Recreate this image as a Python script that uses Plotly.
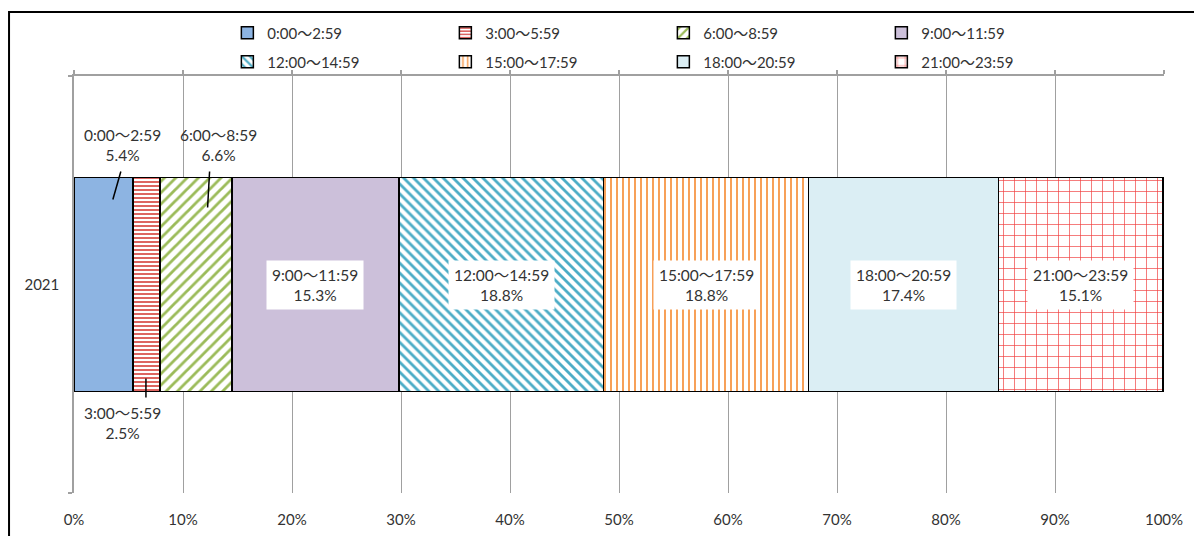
import numpy as np
import plotly.graph_objects as go

# Share of records by time of day (one stacked bar for 2021)
year = ["2021"]
periods = ["0:00～2:59", "3:00～5:59", "6:00～8:59", "9:00～11:59",
           "12:00～14:59", "15:00～17:59", "18:00～20:59", "21:00～23:59"]
shares = [5.4, 2.5, 6.6, 15.3, 18.8, 18.8, 17.4, 15.1]
x_ticks = list(range(0, 101, 10))
x_tick_labels = [f"{t}%" for t in x_ticks]

# Fill styles per period: (pattern shape, foreground, background, tile size, solidity)
styles = [
    ("", "#8DB4E2", "#8DB4E2", 8, 0.3),
    ("-", "#D9534F", "white", 4, 0.45),
    ("/", "#9BBB59", "white", 8, 0.35),
    ("", "#CCC0DA", "#CCC0DA", 8, 0.3),
    ("\\", "#4BACC6", "white", 7, 0.4),
    ("|", "#F79646", "white", 6, 0.3),
    ("", "#DBEEF4", "#DBEEF4", 8, 0.3),
    ("+", "#F04040", "white", 11, 0.12),
]

FONT = "Lato, 'Noto Sans CJK JP', sans-serif"
TXT = "#333333"
GRID = "#A0A0A0"
BAR_W = 0.513

fig = go.Figure()
for i, (name, val) in enumerate(zip(periods, shares)):
    shape, fg, bg, size, sol = styles[i]
    fig.add_trace(go.Bar(
        x=[val], y=year, orientation="h", name=name,
        legend="legend" if i < 4 else "legend2",
        marker=dict(
            color=bg,
            pattern=dict(shape=shape, fgcolor=fg, bgcolor=bg, size=size,
                         solidity=sol, fillmode="replace"),
            line=dict(color="black", width=1.5),
        ),
        hoverinfo="x+name",
    ))

# invisible trace so the top axis line with its ticks is drawn
fig.add_trace(go.Scatter(x=[0], y=year, xaxis="x2", mode="markers",
                         marker=dict(opacity=0), showlegend=False,
                         hoverinfo="skip"))

starts = np.cumsum([0] + shares[:-1])
annotations = []
shapes = []

# labels inside the wide segments
for i in range(3, len(shares)):
    annotations.append(dict(
        x=starts[i] + shares[i] / 2, y=0, xref="x", yref="y",
        text=f"{periods[i]}<br>{shares[i]:.1f}%", showarrow=False,
        bgcolor="white", borderpad=5,
        font=dict(family=FONT, size=15.5, color=TXT),
    ))

# labels outside the narrow segments, with leader lines
# (segment index, position along segment, bar edge, line offsets px, text shift px)
outside = [
    (0, 0.66, BAR_W / 2, (0, -22, 8, 6), (10, 33)),
    (2, 0.66, BAR_W / 2, (0, -30, 2, 6), (11, 33)),
    (1, 0.48, -BAR_W / 2, (0, 13, 0, -6), (-23, -32)),
]
for i, frac, edge, (lx0, ly0, lx1, ly1), (sx, sy) in outside:
    ax = starts[i] + shares[i] * frac
    shapes.append(dict(
        type="line", xref="x", yref="y", xsizemode="pixel", ysizemode="pixel",
        xanchor=ax, yanchor=edge, x0=lx0, y0=ly0, x1=lx1, y1=ly1,
        line=dict(color="black", width=1.5),
    ))
    annotations.append(dict(
        x=ax, y=edge, xref="x", yref="y", xshift=sx, yshift=sy,
        text=f"{periods[i]}<br>{shares[i]:.1f}%", showarrow=False,
        font=dict(family=FONT, size=15.5, color=TXT),
    ))

# chart frame
shapes.append(dict(type="rect", xref="paper", yref="paper",
                   x0=-0.0596, x1=1.04, y0=-0.13, y1=1.1535,
                   line=dict(color="black", width=2), layer="below"))

legend_common = dict(
    orientation="h", xanchor="left", yanchor="middle", x=0.1407,
    entrywidth=173, entrywidthmode="pixels",
    font=dict(family=FONT, size=15, color=TXT),
    bgcolor="rgba(0,0,0,0)", itemclick=False, itemdoubleclick=False,
    traceorder="normal",
)

fig.update_layout(
    width=1194, height=536,
    margin=dict(l=74, r=30, t=76, b=43, autoexpand=False),
    paper_bgcolor="white", plot_bgcolor="white",
    barmode="stack", bargap=1 - BAR_W,
    font=dict(family=FONT, size=15, color=TXT),
    legend=dict(legend_common, y=1.103),
    legend2=dict(legend_common, y=1.0336),
    xaxis=dict(
        range=[0, 100], tickvals=x_ticks, ticktext=x_tick_labels,
        showgrid=True, gridcolor=GRID, gridwidth=1,
        zeroline=False, showline=False, ticks="",
        ticklabelstandoff=16, automargin=False,
        tickfont=dict(family=FONT, size=15, color=TXT),
    ),
    xaxis2=dict(
        range=[0, 100], tickvals=x_ticks, overlaying="x", side="top",
        anchor="y", showgrid=False, zeroline=False, showline=True,
        linecolor=GRID, linewidth=1.5, ticks="outside", ticklen=4,
        tickcolor=GRID, tickwidth=1.5, showticklabels=False,
        automargin=False,
    ),
    yaxis=dict(
        range=[-0.5, 0.5], showline=True, linecolor=GRID, linewidth=1.5,
        ticks="outside", tickson="boundaries", ticklen=4, tickcolor=GRID,
        tickwidth=1.5, showgrid=False, zeroline=False,
        ticklabelstandoff=10, automargin=False,
        tickfont=dict(family=FONT, size=15, color=TXT),
    ),
    annotations=annotations,
    shapes=shapes,
)

fig.write_html("out.html")
